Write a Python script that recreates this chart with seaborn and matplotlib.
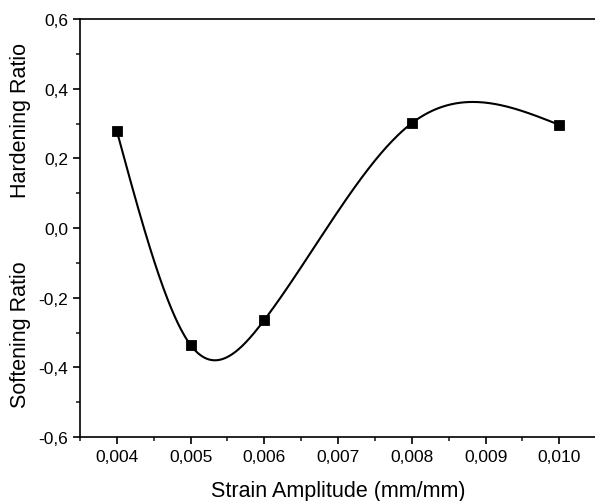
import numpy as np
import pandas as pd
import matplotlib
matplotlib.use("Agg")
import matplotlib.pyplot as plt
from matplotlib.ticker import FuncFormatter, MultipleLocator
import seaborn as sns

strain = [0.004, 0.005, 0.006, 0.008, 0.010]
ratio = [0.278, -0.336, -0.264, 0.301, 0.296]

sns.set_style("ticks")
plt.rcParams["font.family"] = ["Liberation Sans", "DejaVu Sans"]
plt.rcParams["text.color"] = "black"
plt.rcParams["axes.labelcolor"] = "black"


def natural_spline(x, y, n=400):
    x = np.asarray(x, float)
    y = np.asarray(y, float)
    k = len(x)
    h = np.diff(x)
    A = np.zeros((k, k))
    b = np.zeros(k)
    A[0, 0] = 1
    A[-1, -1] = 1
    for i in range(1, k - 1):
        A[i, i - 1] = h[i - 1]
        A[i, i] = 2 * (h[i - 1] + h[i])
        A[i, i + 1] = h[i]
        b[i] = 6 * ((y[i + 1] - y[i]) / h[i] - (y[i] - y[i - 1]) / h[i - 1])
    M = np.linalg.solve(A, b)
    xs = np.linspace(x[0], x[-1], n)
    ys = np.empty_like(xs)
    for j, xv in enumerate(xs):
        i = min(np.searchsorted(x, xv, side="right") - 1, k - 2)
        t1 = x[i + 1] - xv
        t2 = xv - x[i]
        ys[j] = (M[i] * t1**3 / (6 * h[i]) + M[i + 1] * t2**3 / (6 * h[i])
                 + (y[i] / h[i] - M[i] * h[i] / 6) * t1
                 + (y[i + 1] / h[i] - M[i + 1] * h[i] / 6) * t2)
    return xs, ys


xs, ys = natural_spline(strain, ratio)
df_pts = pd.DataFrame({"strain": strain, "ratio": ratio})
df_curve = pd.DataFrame({"strain": xs, "ratio": ys})

fig = plt.figure(figsize=(5.95, 5.02), dpi=100)
ax = fig.add_axes([80 / 595, 64 / 502, 1 - 80 / 595 + 0.002, 418 / 502])

sns.lineplot(data=df_curve, x="strain", y="ratio", color="black", lw=1.5, ax=ax)
sns.scatterplot(data=df_pts, x="strain", y="ratio", marker="s", s=55,
                color="black", edgecolor="black", ax=ax, zorder=5)

ax.set_xlim(0.0035, 0.0105)
ax.set_ylim(-0.6, 0.6)
ax.xaxis.set_major_locator(MultipleLocator(0.001))
ax.xaxis.set_minor_locator(MultipleLocator(0.0005))
ax.yaxis.set_major_locator(MultipleLocator(0.2))
ax.yaxis.set_minor_locator(MultipleLocator(0.1))
ax.xaxis.set_major_formatter(FuncFormatter(lambda v, p: f"{v:.3f}".replace(".", ",")))
ax.yaxis.set_major_formatter(FuncFormatter(lambda v, p: f"{v:.1f}".replace(".", ",").replace("-0,0", "0,0")))
ax.tick_params(axis="both", which="major", direction="out", length=5, width=1.2,
               labelsize=12.5, colors="black")
ax.tick_params(axis="both", which="minor", direction="out", length=3, width=1.2)
for s in ["left", "bottom", "top"]:
    ax.spines[s].set_visible(True)
    ax.spines[s].set_linewidth(1.2)
    ax.spines[s].set_color("black")
ax.spines["right"].set_visible(False)
ax.set_xlabel("")
ax.set_ylabel("")

fig.text(338 / 595, 1 - 492 / 502, "Strain Amplitude (mm/mm)", fontsize=15.5,
         ha="center", va="center", color="black")
fig.text(21 / 595, 1 - 120 / 502, "Hardening Ratio", rotation=90, fontsize=15.5,
         ha="center", va="center", color="black")
fig.text(21 / 595, 1 - 335 / 502, "Softening Ratio", rotation=90, fontsize=15.5,
         ha="center", va="center", color="black")

fig.savefig("out.png", dpi=100)
